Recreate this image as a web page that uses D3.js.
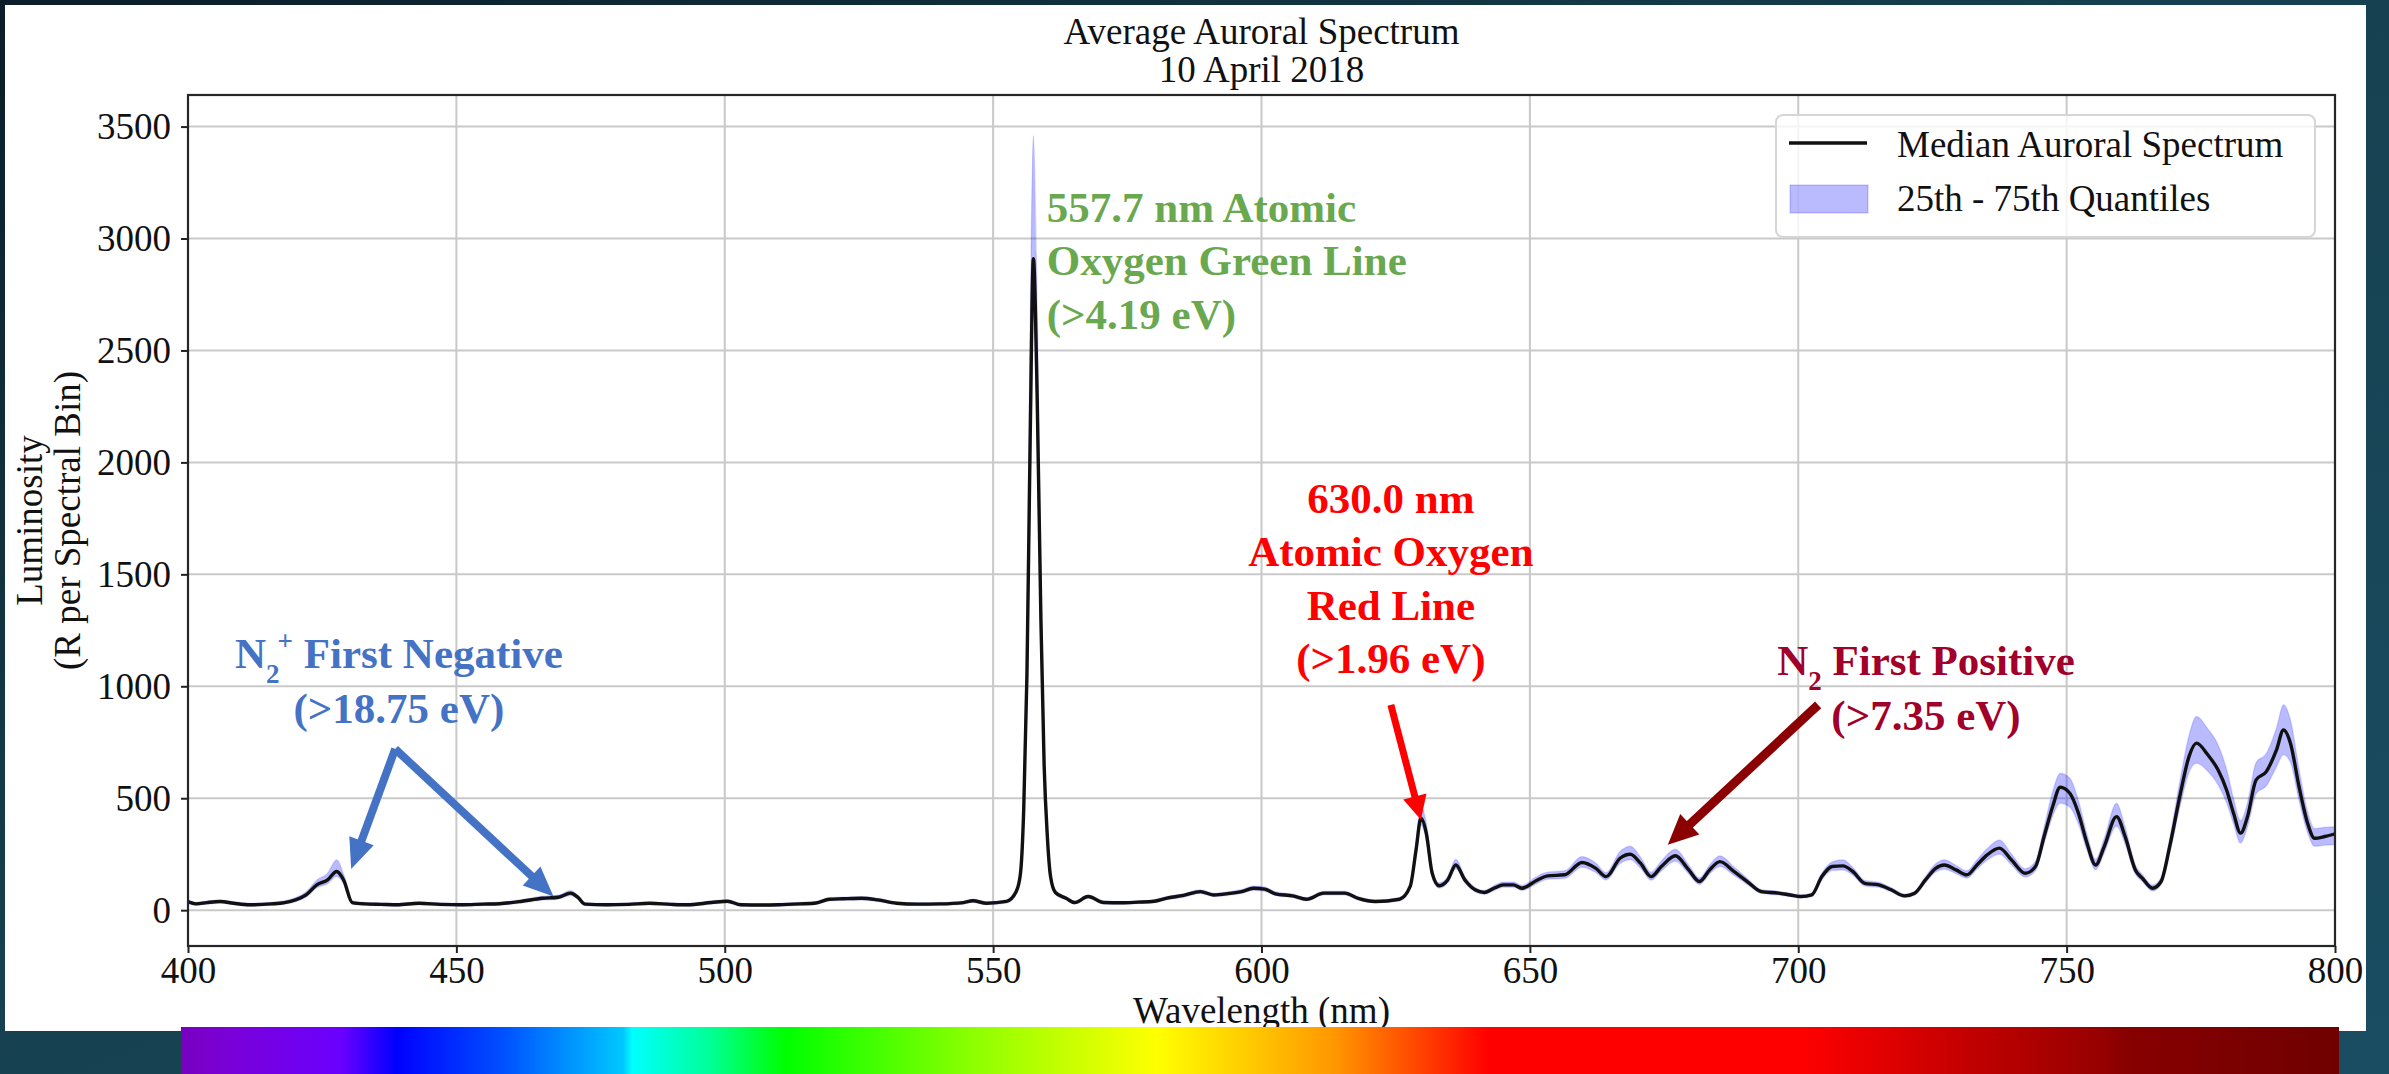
<!DOCTYPE html>
<html>
<head>
<meta charset="utf-8">
<script src="https://cdn.jsdelivr.net/npm/d3@7/dist/d3.min.js"></script>
<style>
  html, body { margin: 0; padding: 0; background: #153a4e; }
  svg { display: block; }
</style>
</head>
<body>
<svg id="chart" width="2389" height="1074"></svg>
<script>
// ---- data ----
const wavelengths = [
  400,401.5,403.5,406,408.5,411.5,415.5,418,420,422,
  424,426,427.7,429,430.6,433,436,439,443,447,
  451,455,458,462,466,469,471.3,472.6,474,478,
  482,486,490,493,497.5,500.5,503,507,510,514,
  517,519.5,522,525.5,528.5,532,536,540,544.5,546.2,
  548.8,552.5,554.3,555.1,555.7,556.3,556.9,557.5,558.2,558.9,
  559.5,560.1,560.7,561.6,563.6,565.2,567.7,570.6,574,577,
  580,582.2,585.5,588.6,591.1,594,596.3,598.5,600.6,602.6,
  605.8,608.4,611.6,615.5,618,621.2,625.7,627.7,628.8,629.7,
  630.7,631.8,633.1,634.7,636.2,637.9,639.8,641.5,643.5,645,
  646.9,648.5,651.4,653.3,656.5,659.7,662.3,664.2,666.8,668.7,
  670.6,672.6,674.5,677.1,679.6,681.6,683.5,685.4,688,690.5,
  693.1,696.3,698.5,700.5,702.5,704.4,706.3,708.3,710.2,712.4,
  715,717.3,719.8,721.7,723.7,725.6,727.2,729.4,731.4,733.3,
  735.2,737.5,739.7,742.3,744.2,745.8,747.4,748.8,750.6,752.2,
  753.8,755.4,757,759.3,760.9,762.8,764.1,766,767.6,769.2,
  771.2,772.8,774.2,776.3,778.2,779.8,781.1,782.4,783.7,785.3,
  787.2,789.1,790.4,791.7,793.3,794.9,796.2,798.1,800
];

const medianValues = [
  38,28,34,39,31,24,28,34,46,68,
  113,135,173,135,34,28,26,24,31,26,
  24,27,29,39,53,58,76,58,27,24,
  26,31,26,24,34,40,24,23,24,28,
  32,49,51,53,46,31,27,28,34,42,
  31,39,83,165,450,1050,2100,2910,2300,1300,
  650,330,150,79,53,34,61,34,33,36,
  40,53,66,83,68,75,83,98,94,73,
  64,49,76,76,53,39,49,106,270,411,
  344,165,109,135,202,135,91,79,100,113,
  113,98,135,153,158,213,187,150,232,250,
  210,150,195,243,180,128,180,217,173,128,
  83,76,68,61,68,150,195,198,172,120,
  113,91,64,76,135,187,202,180,158,202,
  247,277,225,165,195,329,463,549,522,433,
  299,202,284,418,329,180,143,98,128,284,
  522,686,746,694,627,537,433,344,418,582,
  619,716,805,746,552,388,321,329,341
];

const q25Values = [
  30,22,27,32,25,18,22,27,38,58,
  100,118,150,118,28,22,20,18,25,20,
  18,21,23,32,45,50,66,50,21,18,
  20,25,20,18,28,33,18,17,18,22,
  26,42,44,46,39,25,21,22,28,35,
  25,32,74,150,410,960,1900,2650,2100,1180,
  590,300,136,70,46,28,54,28,27,30,
  34,46,58,75,61,67,75,89,85,65,
  57,42,68,68,46,33,42,95,245,380,
  315,150,98,122,185,122,82,71,90,102,
  102,88,120,138,142,192,168,135,208,225,
  188,134,175,218,162,115,162,195,156,115,
  75,68,61,54,60,136,177,180,156,108,
  102,82,57,68,122,170,183,163,143,183,
  224,250,203,148,176,298,420,478,460,385,
  268,180,255,375,295,162,128,86,114,255,
  470,615,656,620,560,480,385,299,370,520,
  555,640,694,660,490,345,285,290,292
];

const q75Values = [
  46,35,41,46,38,30,35,42,56,82,
  135,165,225,160,42,34,32,30,37,32,
  30,33,35,46,62,67,88,66,33,30,
  32,37,32,30,41,47,30,29,30,34,
  38,56,58,60,53,37,33,34,40,49,
  37,46,94,185,520,1250,2600,3460,2700,1500,
  740,370,166,88,60,40,68,40,39,42,
  47,60,74,91,76,83,92,108,104,82,
  72,56,84,84,60,45,56,120,310,463,
  390,185,122,150,228,150,101,88,112,126,
  126,110,152,170,176,240,210,168,262,285,
  238,170,220,272,202,144,202,243,194,142,
  92,84,76,68,76,166,215,225,190,133,
  125,101,72,85,150,207,225,200,176,225,
  275,314,252,185,220,370,530,612,590,490,
  340,228,320,478,372,202,160,112,145,320,
  590,780,865,810,740,630,500,400,480,660,
  700,815,917,850,630,440,365,370,373
];

const xTicks = [400, 450, 500, 550, 600, 650, 700, 750, 800];
const yTicks = [0, 500, 1000, 1500, 2000, 2500, 3000, 3500];
const titleLines = ["Average Auroral Spectrum", "10 April 2018"];
const xLabel = "Wavelength (nm)";
const yLabelLines = ["Luminosity", "(R per Spectral Bin)"];
const legendLabels = ["Median Auroral Spectrum", "25th - 75th Quantiles"];

// annotation texts, anchored in data units (wavelength, luminosity)
const greenNote = { lines: ["557.7 nm Atomic", "Oxygen Green Line", "(>4.19 eV)"], wl: 560, lum: 3074 };
const redNote = { lines: ["630.0 nm", "Atomic Oxygen", "Red Line", "(>1.96 eV)"], wl: 624.1, lum: 1775 };
const blueNote = { lines: ["First Negative", "(>18.75 eV)"], wl: 439.3, lum: 1082 };
const darkRedNote = { lines: ["First Positive", "(>7.35 eV)"], wl: 723.8, lum: 1051 };

// arrows: [from wl, from lum, to wl, to lum]
const blueArrows = [[438.6, 720, 430.4, 184], [438.6, 720, 468.1, 61]];
const redArrow = [624.1, 917, 629.7, 404];
const darkRedArrow = [703.7, 917, 675.7, 292];

const rows = wavelengths.map((w, i) => ({ wl: w, med: medianValues[i], lo: q25Values[i], hi: q75Values[i] }));

// ---- layout ----
const W = 2389, H = 1074;
const margin = { left: 188, right: W - 2335, top: 95, bottom: H - 946 };
const serif = "'Liberation Serif', 'Times New Roman', serif";

const svg = d3.select('#chart');
const defs = svg.append('defs');

// slide background
const bg = defs.append('linearGradient').attr('id', 'bg')
  .attr('x1', '0%').attr('y1', '0%').attr('x2', '100%').attr('y2', '100%');
bg.append('stop').attr('offset', '0%').attr('stop-color', '#0b1d28');
bg.append('stop').attr('offset', '45%').attr('stop-color', '#16404f');
bg.append('stop').attr('offset', '100%').attr('stop-color', '#1a4d62');
svg.append('rect').attr('width', W).attr('height', H).attr('fill', 'url(#bg)');

// white picture panel
svg.append('rect').attr('x', 5).attr('y', 5).attr('width', 2361).attr('height', 1026).attr('fill', '#ffffff');

const x = d3.scaleLinear().domain([400, 800]).range([margin.left, W - margin.right]);
const y = d3.scaleLinear().domain([-160, 3641]).range([H - margin.bottom, margin.top]);

const plot = svg.append('g');

// grid
plot.append('g').selectAll('line').data(xTicks).join('line')
  .attr('x1', d => x(d)).attr('x2', d => x(d))
  .attr('y1', y.range()[1]).attr('y2', y.range()[0])
  .attr('stroke', '#c9c9c9').attr('stroke-width', 2);
plot.append('g').selectAll('line').data(yTicks).join('line')
  .attr('y1', d => y(d)).attr('y2', d => y(d))
  .attr('x1', x.range()[0]).attr('x2', x.range()[1])
  .attr('stroke', '#c9c9c9').attr('stroke-width', 2);

defs.append('clipPath').attr('id', 'clip').append('rect')
  .attr('x', x.range()[0]).attr('y', y.range()[1])
  .attr('width', x.range()[1] - x.range()[0]).attr('height', y.range()[0] - y.range()[1]);

// quantile band
const band = d3.area()
  .x(d => x(d.wl)).y0(d => y(d.lo)).y1(d => y(d.hi))
  .curve(d3.curveMonotoneX);
plot.append('path').attr('d', band(rows))
  .attr('clip-path', 'url(#clip)')
  .attr('fill', '#0000ff').attr('fill-opacity', 0.27)
  .attr('stroke', '#0000ff').attr('stroke-opacity', 0.12).attr('stroke-width', 1.5);

// median line
const line = d3.line().x(d => x(d.wl)).y(d => y(d.med)).curve(d3.curveMonotoneX);
plot.append('path').attr('d', line(rows))
  .attr('clip-path', 'url(#clip)')
  .attr('fill', 'none').attr('stroke', '#111').attr('stroke-width', 3.4)
  .attr('stroke-linejoin', 'round');

// spines
plot.append('rect')
  .attr('x', x.range()[0]).attr('y', y.range()[1])
  .attr('width', x.range()[1] - x.range()[0]).attr('height', y.range()[0] - y.range()[1])
  .attr('fill', 'none').attr('stroke', '#262626').attr('stroke-width', 2.2);

// axes
const yAxis = d3.axisLeft(y).tickValues(yTicks).tickFormat(d3.format('d')).tickSize(7).tickPadding(10);
const xAxis = d3.axisBottom(x).tickValues(xTicks).tickFormat(d3.format('d')).tickSize(7).tickPadding(4);

const gy = svg.append('g').attr('transform', `translate(${x.range()[0]},0)`).call(yAxis);
const gx = svg.append('g').attr('transform', `translate(0,${y.range()[0]})`).call(xAxis);
[gx, gy].forEach(g => {
  g.select('.domain').remove();
  g.selectAll('.tick line').attr('stroke', '#222').attr('stroke-width', 2);
  g.selectAll('.tick text').attr('fill', '#111')
    .style('font-family', serif).style('font-size', '37px');
});

// title
svg.append('g').selectAll('text').data(titleLines).join('text')
  .attr('x', (x.range()[0] + x.range()[1]) / 2)
  .attr('y', (d, i) => 43.5 + i * 38.5)
  .attr('text-anchor', 'middle')
  .style('font-family', serif).style('font-size', '37px').attr('fill', '#111')
  .text(d => d);

// axis labels
svg.append('text')
  .attr('x', (x.range()[0] + x.range()[1]) / 2).attr('y', 1023)
  .attr('text-anchor', 'middle')
  .style('font-family', serif).style('font-size', '37px').attr('fill', '#111')
  .text(xLabel);

const yMid = (y.range()[0] + y.range()[1]) / 2;
svg.append('g').selectAll('text').data(yLabelLines).join('text')
  .attr('transform', (d, i) => `translate(${42 + i * 38},${yMid}) rotate(-90)`)
  .attr('text-anchor', 'middle')
  .style('font-family', serif).style('font-size', '37px').attr('fill', '#111')
  .text(d => d);

// legend
const legend = svg.append('g');
legend.append('rect')
  .attr('x', 1776).attr('y', 115).attr('width', 539).attr('height', 122)
  .attr('rx', 7).attr('ry', 7)
  .attr('fill', '#ffffff').attr('fill-opacity', 0.8)
  .attr('stroke', '#d6d6d6').attr('stroke-width', 2);
legend.append('line')
  .attr('x1', 1789).attr('x2', 1867).attr('y1', 143).attr('y2', 143)
  .attr('stroke', '#111').attr('stroke-width', 3.4);
legend.append('rect')
  .attr('x', 1790).attr('y', 185).attr('width', 78).attr('height', 28)
  .attr('fill', '#0000ff').attr('fill-opacity', 0.27)
  .attr('stroke', '#0000ff').attr('stroke-opacity', 0.15).attr('stroke-width', 1.5);
legend.selectAll('text.lg').data(legendLabels).join('text')
  .attr('class', 'lg')
  .attr('x', 1897).attr('y', (d, i) => 156.5 + i * 54.5)
  .style('font-family', serif).style('font-size', '37px').attr('fill', '#111')
  .text(d => d);

// ---- annotations ----
const noteFont = serif;
const noteSize = 43;
const lineGap = 53.5;

function drawArrow(a, colour, width, headLen, headWidth) {
  const x1 = x(a[0]), y1 = y(a[1]), x2 = x(a[2]), y2 = y(a[3]);
  const len = Math.hypot(x2 - x1, y2 - y1);
  const ux = (x2 - x1) / len, uy = (y2 - y1) / len;
  const bx = x2 - ux * headLen, by = y2 - uy * headLen;
  const g = svg.append('g');
  g.append('line').attr('x1', x1).attr('y1', y1).attr('x2', bx + ux * 2).attr('y2', by + uy * 2)
    .attr('stroke', colour).attr('stroke-width', width);
  const px = -uy, py = ux;
  g.append('path')
    .attr('d', d3.line()([[x2, y2], [bx + px * headWidth / 2, by + py * headWidth / 2], [bx - px * headWidth / 2, by - py * headWidth / 2]]) + 'Z')
    .attr('fill', colour);
}

// green line note (left aligned)
svg.append('g').selectAll('text').data(greenNote.lines).join('text')
  .attr('x', x(greenNote.wl)).attr('y', (d, i) => y(greenNote.lum) + i * lineGap)
  .style('font-family', noteFont).style('font-size', noteSize + 'px').style('font-weight', 'bold')
  .attr('fill', '#6aa84f').text(d => d);

// red line note (centered)
svg.append('g').selectAll('text').data(redNote.lines).join('text')
  .attr('x', x(redNote.wl)).attr('y', (d, i) => y(redNote.lum) + i * lineGap)
  .attr('text-anchor', 'middle')
  .style('font-family', noteFont).style('font-size', noteSize + 'px').style('font-weight', 'bold')
  .attr('fill', '#ff0000').text(d => d);
drawArrow(redArrow, '#ff0000', 7, 24, 24);

// N2+ first negative
const blueG = svg.append('g').attr('fill', '#4472c4')
  .style('font-family', noteFont).style('font-weight', 'bold');
const bt = blueG.append('text').attr('x', x(blueNote.wl)).attr('y', y(blueNote.lum))
  .attr('text-anchor', 'middle').style('font-size', noteSize + 'px');
bt.append('tspan').text('N');
bt.append('tspan').attr('dy', 15).style('font-size', '27px').text('2');
bt.append('tspan').attr('dy', -33).attr('dx', -2).style('font-size', '27px').text('+');
bt.append('tspan').attr('dy', 18).text(' ' + blueNote.lines[0]);
blueG.append('text').attr('x', x(blueNote.wl)).attr('y', y(blueNote.lum) + 55)
  .attr('text-anchor', 'middle').style('font-size', noteSize + 'px').text(blueNote.lines[1]);
blueArrows.forEach(a => drawArrow(a, '#4472c4', 8, 30, 26));

// N2 first positive
const drG = svg.append('g').attr('fill', '#a0002a')
  .style('font-family', noteFont).style('font-weight', 'bold');
const dt = drG.append('text').attr('x', x(darkRedNote.wl)).attr('y', y(darkRedNote.lum))
  .attr('text-anchor', 'middle').style('font-size', noteSize + 'px');
dt.append('tspan').text('N');
dt.append('tspan').attr('dy', 15).style('font-size', '27px').text('2');
dt.append('tspan').attr('dy', -15).text(' ' + darkRedNote.lines[0]);
drG.append('text').attr('x', x(darkRedNote.wl)).attr('y', y(darkRedNote.lum) + 55)
  .attr('text-anchor', 'middle').style('font-size', noteSize + 'px').text(darkRedNote.lines[1]);
drawArrow(darkRedArrow, '#8b0000', 9, 30, 28);

// ---- visible-spectrum colour strip along the bottom of the slide ----
const spectrumStops = [
  [0, '#7800c0'], [0.023, '#7a00d8'], [0.074, '#6a00ff'], [0.082, '#4a00ff'],
  [0.1, '#0000ff'], [0.149, '#0050ff'], [0.205, '#00c8ff'], [0.209, '#00ffff'],
  [0.244, '#00ff9a'], [0.28, '#00ff00'], [0.369, '#90ff00'], [0.452, '#ffff00'],
  [0.5, '#ffc400'], [0.535, '#ff9600'], [0.583, '#ff3000'], [0.606, '#ff0000'],
  [0.751, '#ff0000'], [0.821, '#c80000'], [0.891, '#960000'], [0.901, '#880000'],
  [1, '#700000']
];
const sg = defs.append('linearGradient').attr('id', 'spectrum');
spectrumStops.forEach(s => sg.append('stop').attr('offset', s[0]).attr('stop-color', s[1]));
svg.append('rect').attr('x', 181).attr('y', 1027).attr('width', 2158).attr('height', 47)
  .attr('fill', 'url(#spectrum)');
</script>
</body>
</html>
